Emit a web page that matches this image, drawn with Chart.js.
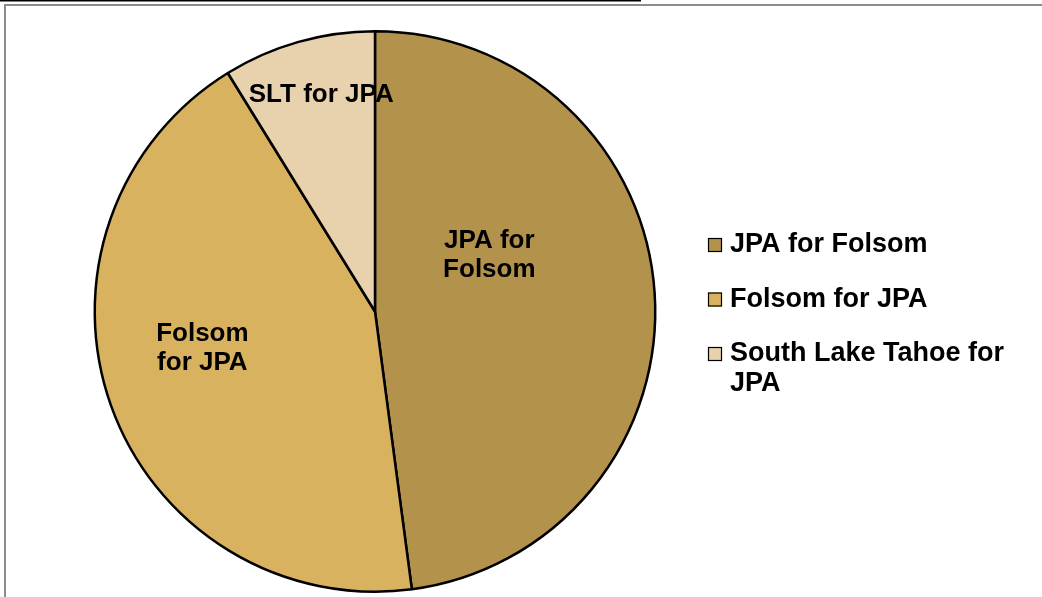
<!DOCTYPE html>
<html>
<head>
<meta charset="utf-8">
<script src="https://cdn.jsdelivr.net/npm/chart.js@4"></script>
<style>
    html, body { margin: 0; padding: 0; background: #ffffff; }
    #grafico { display: block; }
</style>
</head>
<body>
<canvas id="grafico" width="1042" height="597"></canvas>
<script>
// dados
var categorias = ["JPA for Folsom", "Folsom for JPA", "South Lake Tahoe for JPA"];
var valores = [47.9, 43.3, 8.8];
var rotulosFatias = [["JPA for", "Folsom"], ["Folsom", "for JPA"], ["SLT for JPA"]];
var cores = ["#b3924b", "#d9b25f", "#e8d2ae"];

var fonteFatias = "bold 26px 'Liberation Sans', Arial, sans-serif";
var fonteLegenda = "bold 27px 'Liberation Sans', Arial, sans-serif";

// posicao dos rotulos dentro do pie (fracao do raio, relativa ao centro)
var posRotulos = [[0.408, -0.199], [-0.616, 0.130], [-0.192, -0.772]];

var pluginMoldura = {
    id: "moldura",
    beforeDraw: function (chart) {
        var ctx = chart.ctx;
        ctx.save();
        ctx.fillStyle = "#000000";
        ctx.fillRect(0, 0, 641, 1.5);
        ctx.fillStyle = "#8c8c8c";
        ctx.fillRect(4, 4, 1038, 2);
        ctx.fillRect(4, 4, 2, 593);
        ctx.restore();
    }
};

var pluginRotulos = {
    id: "rotulos",
    afterDraw: function (chart) {
        var ctx = chart.ctx;
        var arco = chart.getDatasetMeta(0).data[0];
        var cx = arco.x, cy = arco.y, r = arco.outerRadius;

        ctx.save();
        ctx.font = fonteFatias;
        ctx.fillStyle = "#000000";
        ctx.textAlign = "center";
        ctx.textBaseline = "middle";
        for (var i = 0; i < rotulosFatias.length; i++) {
            var linhas = rotulosFatias[i];
            var x = cx + posRotulos[i][0] * r;
            var y = cy + posRotulos[i][1] * r - (linhas.length - 1) * 29 / 2;
            for (var j = 0; j < linhas.length; j++) {
                ctx.fillText(linhas[j], x, y + j * 29);
            }
        }

        // legenda
        var lx = 708, ly = 245, larguraMax = 325;
        ctx.font = fonteLegenda;
        ctx.textAlign = "left";
        for (var k = 0; k < categorias.length; k++) {
            var palavras = categorias[k].split(" ");
            var linhasLeg = [];
            var atual = "";
            for (var p = 0; p < palavras.length; p++) {
                var teste = atual ? atual + " " + palavras[p] : palavras[p];
                if (ctx.measureText(teste).width > larguraMax - 22 && atual) {
                    linhasLeg.push(atual);
                    atual = palavras[p];
                } else {
                    atual = teste;
                }
            }
            linhasLeg.push(atual);

            ctx.fillStyle = cores[k];
            ctx.fillRect(lx, ly - 7, 14, 14);
            ctx.strokeStyle = "#000000";
            ctx.lineWidth = 1.2;
            ctx.strokeRect(lx + 0.5, ly - 6.5, 13, 13);

            ctx.fillStyle = "#000000";
            for (var m = 0; m < linhasLeg.length; m++) {
                ctx.fillText(linhasLeg[m], lx + 22, ly + m * 30);
            }
            ly += 54.5 + (linhasLeg.length - 1) * 30;
        }
        ctx.restore();
    }
};

var config = {
    type: "pie",
    data: {
        labels: categorias,
        datasets: [{
            data: valores,
            backgroundColor: cores,
            borderColor: "#000000",
            borderWidth: 2.5,
            borderAlign: "center"
        }]
    },
    options: {
        responsive: false,
        animation: false,
        layout: {
            padding: { left: 93, top: 30, right: 385, bottom: 4 }
        },
        plugins: {
            legend: { display: false },
            tooltip: { enabled: false }
        }
    },
    plugins: [pluginMoldura, pluginRotulos]
};

new Chart(document.getElementById("grafico"), config);
</script>
</body>
</html>
